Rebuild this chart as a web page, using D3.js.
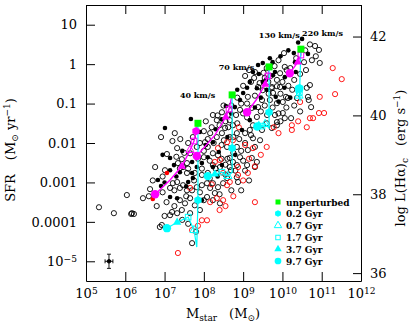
<!DOCTYPE html>
<html>
<head>
<meta charset="utf-8">
<script src="https://cdn.jsdelivr.net/npm/d3@7"></script>
<style>
  body { margin: 0; background: #fff; }
  svg { display: block; }
  text { font-family: "DejaVu Serif", serif; fill: #000; }
</style>
</head>
<body>
<svg width="416" height="327"></svg>
<script>
// all values are log10: [stellar mass (Msun), SFR (Msun/yr)]
var openBlack = [
  [10.83,0.46],[10.93,0.36],[10.75,0.10],[10.95,0.03],[10.04,0.28],[10.55,0.05],[10.06,-0.07],
  [10.11,-0.15],[9.94,-0.23],[9.73,-0.61],[9.86,-0.56],[9.94,-0.58],[10.70,-0.53],[9.76,-0.73],
  [10.09,-0.83],[10.14,-0.86],[10.01,-0.96],[10.37,-0.86],[10.65,-0.83],[10.67,-0.91],[10.73,-1.09],
  [10.01,-1.24],[10.06,-1.37],[10.22,-1.37],[9.81,-1.29],[9.86,-1.55],
  [6.91,-1.85],[7.26,-1.75],[7.06,-2.28],[7.32,-2.13],[7.44,-2.41],[7.60,-2.00],[7.72,-1.85],
  [7.65,-2.26],[7.57,-2.51],[7.82,-2.10],[8.00,-2.36],[8.10,-2.10],[8.23,-2.26],[8.23,-1.29],
  [8.33,-1.42],[8.46,-1.22],[8.61,-1.29],[8.66,-1.42],[8.82,-1.29],[8.92,-1.16],[8.74,-1.55],
  [8.54,-1.62],[8.46,-1.75],[8.33,-1.85],[8.16,-1.75],[8.03,-1.98],[8.51,-1.93],[8.66,-1.85],
  [8.84,-1.75],[9.05,-1.75],[9.17,-1.67],[8.59,-2.10],[8.84,-2.10],[9.05,-2.00],[9.25,-1.88],
  [9.43,-1.93],[9.48,-1.67],[9.35,-1.34],[9.22,-1.11],[9.12,-0.83],[9.38,-0.58],[9.50,-0.66],
  [9.73,-0.58],[9.86,-0.40],[9.48,-0.91],[9.68,-0.91],[9.86,-0.99],[9.38,-1.09],[9.61,-1.29],
  [9.73,-1.62],[9.86,-1.47],[8.36,-2.31],[8.66,-2.38],[8.92,-2.36],[9.12,-2.18],[9.30,-2.10],
  [8.66,-2.61],[8.84,-2.56],[9.22,-2.38],[8.23,-2.56],[7.39,-2.64],
  [6.45,-3.40],[6.63,-3.17],[7.14,-3.14],[7.21,-3.02],[7.32,-2.99],[7.39,-3.14],[7.47,-3.07],
  [7.57,-3.20],[7.70,-3.20],[7.82,-3.12],[7.95,-3.07],[8.08,-3.02],[8.16,-3.14],[8.23,-3.02],
  [8.36,-3.12],[8.49,-3.02],[8.59,-2.89],[8.28,-3.27],[8.08,-3.37],[7.77,-3.58],[7.65,-3.78],
  [7.52,-3.53],[7.39,-3.45],[7.19,-3.75],[7.14,-3.83],[6.93,-4.08],[6.88,-4.13],[7.32,-3.78],
  [7.44,-3.70],[7.70,-4.54],[8.41,-2.61],[8.69,-2.69],[8.33,-2.76],[8.10,-2.76],[7.95,-2.81],
  [7.77,-2.76],[7.57,-2.76],[7.47,-2.61],[7.34,-2.51],[7.01,-2.69],[6.76,-2.61],[7.65,-3.40],
  [8.23,-3.45],[8.41,-3.53],[8.74,-2.48],[8.84,-2.87],[8.87,-2.99],[9.10,-2.56],[9.30,-2.61],
  [9.35,-2.48],[6.17,-3.78],[5.33,-3.63],[5.71,-3.78],[6.04,-3.32],[6.15,-3.80],[6.22,-3.80],
  [9.05,-0.30],[9.20,-0.45],[9.30,-0.20],[9.55,-0.35],[9.60,-0.10],[9.00,-0.55],[8.85,-0.85],
  [8.95,-1.00],[9.10,-1.35],[9.25,-1.55],[8.70,-1.05],[8.55,-1.45],[8.40,-1.55],[8.00,-1.70],
  [7.90,-2.00],[8.15,-2.45],[8.45,-2.40],[8.75,-2.25],[9.00,-2.45],[7.95,-2.65],[8.55,-2.80],
  [9.15,-0.15],[9.28,-0.35],[9.42,-0.48],[9.52,-0.22],[9.64,-0.45],[9.70,-0.30],[9.80,-0.05],
  [9.90,0.10],[10.00,-0.45],[10.15,-0.55],[10.25,-0.65],[10.30,-0.40],[10.20,-0.10],[10.35,0.15],
  [10.45,-0.25],[10.60,-0.15],[10.58,0.35],[10.70,0.50],[10.85,0.20],[10.62,-0.60],[9.95,-0.75],
  [9.65,-0.75],[9.55,-1.05],[9.75,-1.10],[9.90,-1.25],[10.10,-1.10],[10.30,-1.05],[10.45,-1.20],
  [9.45,-1.20],[9.30,-0.80],[9.10,-1.00],[9.00,-1.25],[8.85,-1.50],[9.20,-1.80],[9.60,-1.50],
  [9.95,-1.45],[8.05,-1.45],[8.20,-1.60],[8.35,-1.30],[8.50,-1.05],[8.62,-1.60],[8.75,-1.85],
  [8.90,-1.90],[8.95,-2.20],[8.45,-2.05],[8.25,-2.00],[8.10,-1.90],[8.00,-2.20],[8.30,-2.65],
  [8.55,-2.55],[8.80,-2.70],[9.05,-2.70],[9.15,-2.95],[8.95,-3.20],[8.70,-3.20],[8.40,-3.30],
  [8.60,-2.40],[8.15,-2.90],[7.90,-3.25],[7.75,-2.95],[7.60,-2.65],[7.85,-2.40],[7.50,-2.25],
  [7.30,-2.35],[7.20,-1.95],[7.40,-1.90],[6.95,-3.25],[7.05,-3.50],[7.25,-3.60],[7.45,-3.95],
  [7.60,-4.05],[7.00,-3.85],[6.80,-3.60],[6.60,-3.35],[7.55,-3.35],[7.90,-3.70],[8.00,-3.45],
  [7.80,-4.25],[7.25,-3.20],[6.95,-2.85],[6.70,-2.95]
];
var filledBlack = [
  [10.50,0.64],[10.29,0.28],[10.65,0.26],[10.32,0.05],[9.81,-0.20],[9.76,-0.28],[10.06,-0.33],
  [10.34,-0.20],[9.83,-0.83],[9.68,0.15],[9.50,0.03],[9.38,-0.02],[9.25,-0.20],[9.40,-0.25],
  [9.58,-0.40],[9.50,-0.45],[9.17,-0.45],[9.00,-0.73],[9.35,-0.61],[8.92,-0.91],[8.79,-1.09],
  [8.56,-1.06],[7.67,-1.39],[7.01,-1.62],[7.14,-2.38],[7.24,-2.56],[7.90,-1.72],[8.23,-1.98],
  [8.38,-2.23],[8.10,-2.36],[7.95,-2.51],[8.46,-2.56],[8.97,-1.67],[9.17,-1.42],
  [6.83,-2.94],[6.91,-3.09],[7.14,-2.69],[7.39,-2.74],[7.14,-3.37],[7.32,-3.40],[7.95,-3.45],
  [7.70,-2.48],[7.82,-2.61],[7.72,-2.89],[7.60,-2.99],[8.23,-2.61],[7.70,-2.76],
  [9.95,0.20],[10.15,0.35],[10.40,0.55],[10.05,-0.60],[9.90,-0.95],[9.60,-0.65],[9.45,-0.85],
  [9.10,-0.60],[8.85,-0.65],[9.30,-1.10],[8.70,-1.25],[8.45,-1.40],[8.30,-1.65],[8.60,-1.85],
  [8.05,-2.05],[8.80,-2.30],[7.45,-2.20],[7.30,-2.85],[7.55,-3.10],[8.35,-2.85],[6.95,-2.30],
  [7.00,-3.00],[10.20,-0.85],[9.75,0.05]
];
var openRed = [
  [8.89,-1.60],[8.74,-1.93],[8.59,-1.98],[8.36,-2.13],[9.05,-2.05],[9.25,-2.13],[8.41,-2.43],
  [8.87,-2.61],[9.30,-2.59],[9.78,-1.60],[8.28,-2.48],[8.66,-2.99],[8.59,-3.07],[8.49,-3.45],
  [8.33,-3.40],[8.16,-3.50],[7.95,-3.96],[8.08,-3.96],[7.70,-4.21],[7.34,-4.79],[7.65,-3.14],
  [8.87,-2.81],[9.30,-3.50],[9.12,-2.76],[8.49,-2.76],[10.24,-1.55],[10.24,-1.67],[10.62,-1.60],
  [10.70,-1.37],[10.78,-1.37],[10.93,-1.24],[11.06,-1.24],[10.95,-0.83],[11.28,-0.10],
  [11.51,-0.38],[11.34,-0.76],[10.45,-0.96],
  [8.20,-3.05],[8.40,-3.70],[8.75,-3.35],[9.00,-2.95],[9.45,-2.30],[9.60,-2.10],[7.85,-4.10],
  [8.55,-3.60],[9.15,-2.40],[9.90,-1.75],[10.40,-1.45]
];
var filledRed = [[6.70,-3.42],[7.06,-2.76]];

// typical error bar
var errPoint = [5.585, -5.0];
var errSize = [0.1, 0.18];

// models
var velocities = ["40 km/s", "70 km/s", "130 km/s", "220 km/s"];
var ages = ["0.2 Gyr", "0.7 Gyr", "1.7 Gyr", "3.7 Gyr", "9.7 Gyr"];
var unperturbed = [[7.85,-1.50],[8.72,-0.78],[9.66,-0.07],[10.47,0.38]];
// [logM, logSFR, age index (-1 = no marker)]
var magentaTracks = [
  [[7.85,-1.50,-1],[7.80,-1.70,0],[7.75,-1.95,2],[7.65,-2.18,1],[7.44,-2.59,3],[7.14,-2.94,-1],[6.76,-3.30,4]],
  [[8.72,-0.78,-1],[8.64,-1.14,2],[8.56,-1.34,3],[8.28,-1.80,-1],[7.82,-2.33,4]],
  [[9.66,-0.07,-1],[9.63,-0.30,2],[9.56,-0.51,3],[9.33,-0.91,-1],[9.10,-1.22,4]],
  [[10.47,0.38,-1],[10.47,0.23,2],[10.39,0.05,3],[10.19,-0.23,4]]
];
var cyanTracks = [
  [[7.85,-1.50,-1],[7.85,-3.45,0],[7.82,-4.64,-1],[7.75,-4.21,1],[7.60,-3.88,2],[7.32,-4.01,3],[7.06,-4.16,4]],
  [[8.72,-0.78,-1],[8.72,-2.13,0],[8.72,-2.74,-1],[8.61,-2.84,1],[8.46,-2.74,2],[8.28,-2.79,3],[8.10,-2.84,4]],
  [[9.66,-0.07,-1],[9.66,-1.22,0],[9.66,-1.62,-1],[9.56,-1.52,1],[9.48,-1.57,2],[9.40,-1.55,3],[9.36,-1.58,4]],
  [[10.47,0.38,-1],[10.44,-0.61,0],[10.45,-0.94,-1],[10.42,-0.80,1],[10.43,-0.72,2],[10.42,-0.66,3],[10.42,-0.62,4]]
];

var lumOffset = 41.3; // log L(Halpha) = log SFR + offset

var svg = d3.select("svg");
var p = function(v) { return Math.pow(10, v); };

var x = d3.scaleLog().domain([1e5, 1e12]).range([86, 361]);
var y = d3.scaleLog().domain([p(-5.5), p(1.5)]).range([281, 5]);
var yL = d3.scaleLinear().domain([-5.5 + lumOffset, 1.5 + lumOffset]).range([281, 5]);

var decadesX = d3.range(5, 13).map(p);
var minorX = [];
d3.range(5, 12).forEach(function(d) { for (var k = 2; k < 10; k++) minorX.push(k * p(d)); });
var decadesY = d3.range(-5, 2).map(p);
var minorY = [];
d3.range(-6, 2).forEach(function(d) { for (var k = 2; k < 10; k++) { var v = k * p(d); if (v > p(-5.5) && v < p(1.5)) minorY.push(v); } });

function sup(sel, base, exp) {
  sel.text(null);
  sel.append("tspan").text(base);
  sel.append("tspan").attr("dy", "-0.45em").attr("font-size", "0.7em").text(exp);
}

// bottom axis
var gx = svg.append("g").attr("transform", "translate(0,281)");
gx.call(d3.axisBottom(x).tickValues(minorX).tickSize(-4).tickSizeOuter(0).tickFormat(""));
gx.call(d3.axisBottom(x).tickValues(decadesX).tickSize(-9).tickSizeOuter(0).tickPadding(8));
gx.selectAll(".tick text").attr("font-size", 13).attr("font-family", "DejaVu Serif")
  .each(function(d) { if (this.textContent) sup(d3.select(this), "10", Math.round(Math.log10(d))); });

// top axis
var gt = svg.append("g").attr("transform", "translate(0,5)");
gt.call(d3.axisTop(x).tickValues(minorX).tickSize(-4).tickSizeOuter(0).tickFormat(""));
gt.call(d3.axisTop(x).tickValues(decadesX).tickSize(-9).tickSizeOuter(0).tickFormat(""));

// left axis
var gy = svg.append("g").attr("transform", "translate(86,0)");
gy.call(d3.axisLeft(y).tickValues(minorY).tickSize(-4).tickSizeOuter(0).tickFormat(""));
gy.call(d3.axisLeft(y).tickValues(decadesY).tickSize(-9).tickSizeOuter(0).tickPadding(9)
  .tickFormat(function(d) { var e = Math.round(Math.log10(d)); return e >= 0 ? String(p(e)) : (e > -5 ? d.toFixed(-e) : "x"); }));
gy.selectAll(".tick text").attr("font-size", 13).attr("font-family", "DejaVu Serif")
  .each(function(d) { if (this.textContent === "x") sup(d3.select(this), "10", "\u2212" + 5); });

// right axis (Halpha luminosity)
var gr = svg.append("g").attr("transform", "translate(361,0)");
gr.call(d3.axisRight(yL).tickValues(d3.range(36, 43, 0.5)).tickSize(-5).tickSizeOuter(0).tickFormat(""));
gr.call(d3.axisRight(yL).tickValues([36, 38, 40, 42]).tickSize(-8).tickSizeOuter(0).tickPadding(9).tickFormat(d3.format("d")));
gr.selectAll(".tick text").attr("font-size", 13).attr("font-family", "DejaVu Serif");

svg.selectAll(".domain").attr("stroke", "#000");
svg.selectAll(".tick line").attr("stroke", "#000");

// axis titles
svg.append("text").attr("transform", "translate(15,150) rotate(-90)").attr("text-anchor", "middle")
  .attr("font-size", 13)
  .call(function(t) {
    t.append("tspan").text("SFR");
    t.append("tspan").attr("dx", 14).text("(M");
    t.append("tspan").attr("dy", 3).attr("font-size", 9).text("\u2299");
    t.append("tspan").attr("dy", -3).text(" yr");
    t.append("tspan").attr("dy", -5).attr("font-size", 9).text("\u22121");
    t.append("tspan").attr("dy", 5).text(")");
  });

svg.append("text").attr("transform", "translate(405,158) rotate(-90)").attr("text-anchor", "middle")
  .attr("font-size", 13)
  .call(function(t) {
    t.append("tspan").text("log L(H\u03b1)");
    t.append("tspan").attr("dy", 3).attr("font-size", 9).text("c");
    t.append("tspan").attr("dy", -3).attr("dx", 12).text("(erg s");
    t.append("tspan").attr("dy", -5).attr("font-size", 9).text("\u22121");
    t.append("tspan").attr("dy", 5).text(")");
  });

svg.append("text").attr("x", 223).attr("y", 318).attr("text-anchor", "middle").attr("font-size", 13)
  .call(function(t) {
    t.append("tspan").text("M");
    t.append("tspan").attr("dy", 3).attr("font-size", 9).text("star");
    t.append("tspan").attr("dy", -3).attr("dx", 12).text("(M");
    t.append("tspan").attr("dy", 3).attr("font-size", 9).text("\u2299");
    t.append("tspan").attr("dy", -3).text(")");
  });

// data points
var plot = svg.append("g");
function px(d) { return x(p(d[0])); }
function py(d) { return y(p(d[1])); }

plot.selectAll(".ob").data(openBlack).enter().append("circle")
  .attr("cx", px).attr("cy", py).attr("r", 2.6).attr("fill", "none").attr("stroke", "#000").attr("stroke-width", 0.9);
plot.selectAll(".orr").data(openRed).enter().append("circle")
  .attr("cx", px).attr("cy", py).attr("r", 2.6).attr("fill", "none").attr("stroke", "#f00").attr("stroke-width", 0.9);
plot.selectAll(".fb").data(filledBlack).enter().append("circle")
  .attr("cx", px).attr("cy", py).attr("r", 2.3).attr("fill", "#000");
plot.selectAll(".fr").data(filledRed).enter().append("circle")
  .attr("cx", px).attr("cy", py).attr("r", 2.3).attr("fill", "#f00");

// error bar
var eg = plot.append("g").attr("stroke", "#000").attr("stroke-width", 0.9);
eg.append("line").attr("x1", x(p(errPoint[0] - errSize[0]))).attr("x2", x(p(errPoint[0] + errSize[0])))
  .attr("y1", y(p(errPoint[1]))).attr("y2", y(p(errPoint[1])));
eg.append("line").attr("x1", x(p(errPoint[0]))).attr("x2", x(p(errPoint[0])))
  .attr("y1", y(p(errPoint[1] - errSize[1]))).attr("y2", y(p(errPoint[1] + errSize[1])));
[errPoint[0] - errSize[0], errPoint[0] + errSize[0]].forEach(function(m) {
  eg.append("line").attr("x1", x(p(m))).attr("x2", x(p(m))).attr("y1", y(p(errPoint[1])) - 2).attr("y2", y(p(errPoint[1])) + 2);
});
[errPoint[1] - errSize[1], errPoint[1] + errSize[1]].forEach(function(s) {
  eg.append("line").attr("y1", y(p(s))).attr("y2", y(p(s))).attr("x1", x(p(errPoint[0])) - 2).attr("x2", x(p(errPoint[0])) + 2);
});
eg.append("circle").attr("cx", x(p(errPoint[0]))).attr("cy", y(p(errPoint[1]))).attr("r", 1.8).attr("fill", "#000");

// markers for model ages
var hexagon = function(r) {
  return "M" + d3.range(6).map(function(i) { var a = Math.PI / 3 * i + Math.PI / 6; return [r * Math.cos(a), r * Math.sin(a)]; }).join("L") + "Z";
};
function marker(g, age, color, cx, cy, big) {
  var s = big ? 1 : 0.8;
  if (age === 0) g.append("path").attr("d", hexagon(4.2 * s)).attr("fill", color);
  if (age === 1) g.append("path").attr("d", d3.symbol(d3.symbolTriangle, 30 * s)()).attr("fill", "none").attr("stroke", color).attr("stroke-width", 1);
  if (age === 2) g.append("rect").attr("x", -2.8 * s).attr("y", -2.8 * s).attr("width", 5.6 * s).attr("height", 5.6 * s).attr("fill", "none").attr("stroke", color).attr("stroke-width", 1);
  if (age === 3) g.append("path").attr("d", d3.symbol(d3.symbolTriangle, 30 * s)()).attr("fill", color);
  if (age === 4) g.append("circle").attr("r", 4.2 * s).attr("fill", color);
  g.attr("transform", "translate(" + cx + "," + cy + ")");
}

var line = d3.line().x(px).y(py);
var models = svg.append("g");
magentaTracks.forEach(function(tr) {
  models.append("path").attr("d", line(tr)).attr("fill", "none").attr("stroke", "#f0f").attr("stroke-width", 1.4);
});
cyanTracks.forEach(function(tr) {
  models.append("path").attr("d", line(tr)).attr("fill", "none").attr("stroke", "#0ff").attr("stroke-width", 1.2);
});
magentaTracks.forEach(function(tr) {
  tr.forEach(function(d) { if (d[2] >= 0) marker(models.append("g"), d[2], "#f0f", px(d), py(d), true); });
});
cyanTracks.forEach(function(tr) {
  tr.forEach(function(d) { if (d[2] >= 0) marker(models.append("g"), d[2], "#0ff", px(d), py(d), true); });
});
models.selectAll(".unp").data(unperturbed).enter().append("rect")
  .attr("x", function(d) { return px(d) - 3.5; }).attr("y", function(d) { return py(d) - 3.5; })
  .attr("width", 7).attr("height", 7).attr("fill", "#0f0");

// velocity labels
var velPos = [[7.39,-0.86],[8.38,-0.15],[9.40,0.66],[10.50,0.71]];
svg.selectAll(".vel").data(velocities).enter().append("text")
  .attr("x", function(d, i) { return px(velPos[i]); })
  .attr("y", function(d, i) { return py(velPos[i]); })
  .attr("font-size", 8).attr("font-weight", "bold").text(function(d) { return d; });

// legend
var leg = svg.append("g").attr("transform", "translate(278,202)");
var legItems = ["unperturbed"].concat(ages);
legItems.forEach(function(t, i) {
  var row = leg.append("g").attr("transform", "translate(0," + [0, 11.5, 23.5, 35.5, 47, 59][i] + ")");
  if (i === 0) row.append("rect").attr("x", -2.5).attr("y", -2.5).attr("width", 5).attr("height", 5).attr("fill", "#0f0");
  else marker(row.append("g"), i - 1, "#0ff", 0, 0, false);
  row.append("text").attr("x", 8).attr("y", 3.5).attr("font-size", 9).attr("font-weight", "bold").text(t);
});
</script>
</body>
</html>
